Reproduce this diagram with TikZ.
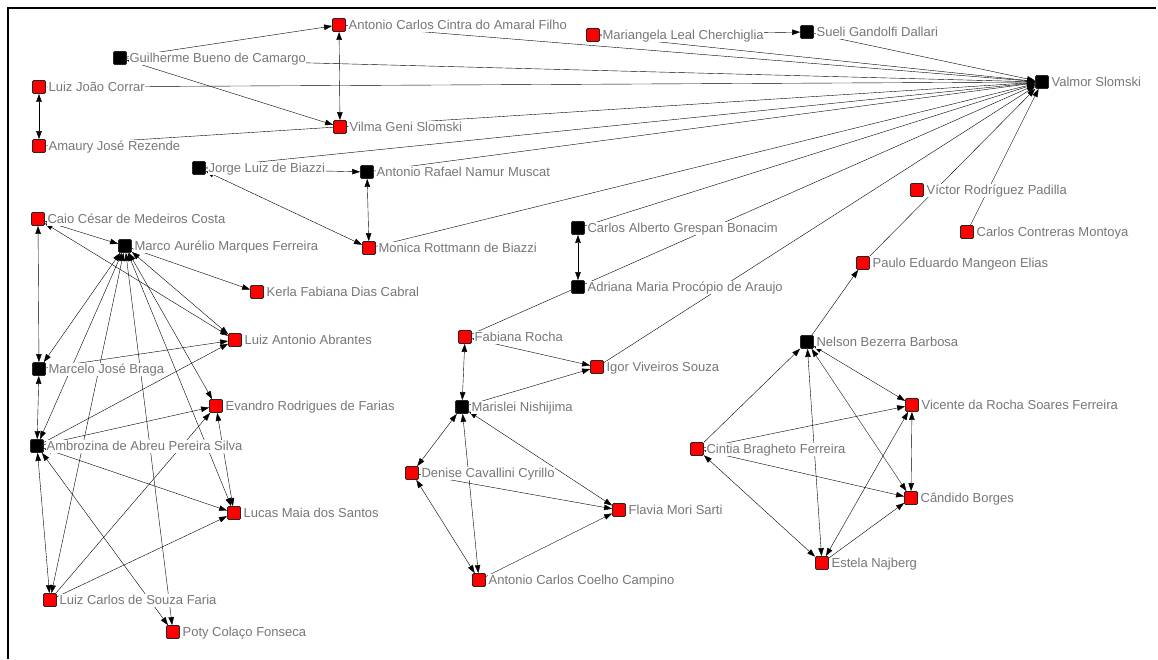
\documentclass[tikz,border=0pt]{standalone}
\usepackage{fontspec}
\setmainfont{Liberation Sans}
\usetikzlibrary{arrows.meta,backgrounds}

\definecolor{lblgray}{RGB}{118,118,124}
\definecolor{nodered}{RGB}{255,0,0}

\begin{document}
\begin{tikzpicture}[x=1pt,y=-1pt,
  >={Triangle[length=8pt,width=5.5pt]},
  sq/.style={draw=black!85,rectangle,rounded corners=1.2pt,minimum size=13pt,inner sep=0pt,line width=0.8pt},
  rd/.style={sq,fill=nodered},
  bk/.style={sq,fill=black},
  lbl/.style={fill=white,text=lblgray,font=\fontsize{13}{15}\selectfont,inner sep=0.5pt,text height=10pt,text depth=2pt,label distance=2pt},
  edge/.style={line width=1.1pt,black}]
\useasboundingbox (0,0) rectangle (1158,659);
\draw[line width=2pt] (8,659) -- (8,8) -- (1156,8);

\node[rd,label={[lbl]right:Antonio Carlos Cintra do Amaral Filho}] (n0) at (339,25) {};
\node[bk,label={[lbl]right:Guilherme Bueno de Camargo}] (n1) at (120,58) {};
\node[rd,label={[lbl]right:Luiz João Corrar}] (n2) at (39,87) {};
\node[rd,label={[lbl]right:Vilma Geni Slomski}] (n3) at (340,127) {};
\node[rd,label={[lbl]right:Amaury José Rezende}] (n4) at (39,146) {};
\node[bk,label={[lbl]right:Jorge Luiz de Biazzi}] (n5) at (199,168) {};
\node[bk,label={[lbl]right:Antonio Rafael Namur Muscat}] (n6) at (367,172) {};
\node[rd,label={[lbl]right:Mariangela Leal Cherchiglia}] (n7) at (593,35) {};
\node[bk,label={[lbl]right:Sueli Gandolfi Dallari}] (n8) at (807,32) {};
\node[bk,label={[lbl]right:Valmor Slomski}] (n9) at (1042,82) {};
\node[rd,label={[lbl]right:Víctor Rodríguez Padilla}] (n10) at (917,190) {};
\node[rd,label={[lbl]right:Monica Rottmann de Biazzi}] (n11) at (369,248) {};
\node[bk,label={[lbl]right:Carlos Alberto Grespan Bonacim}] (n12) at (578,228) {};
\node[bk,label={[lbl]right:Adriana Maria Procópio de Araujo}] (n13) at (578,287) {};
\node[rd,label={[lbl]right:Carlos Contreras Montoya}] (n14) at (967,232) {};
\node[rd,label={[lbl]right:Paulo Eduardo Mangeon Elias}] (n15) at (863,263) {};
\node[rd,label={[lbl]right:Fabiana Rocha}] (n16) at (465,337) {};
\node[rd,label={[lbl]right:Igor Viveiros Souza}] (n17) at (597,367) {};
\node[bk,label={[lbl]right:Marislei Nishijima}] (n18) at (462,407) {};
\node[bk,label={[lbl]right:Nelson Bezerra Barbosa}] (n19) at (807,342) {};
\node[rd,label={[lbl]right:Vicente da Rocha Soares Ferreira}] (n20) at (912,405) {};
\node[rd,label={[lbl]right:Cintia Bragheto Ferreira}] (n21) at (697,449) {};
\node[rd,label={[lbl]right:Cândido Borges}] (n22) at (911,498) {};
\node[rd,label={[lbl]right:Estela Najberg}] (n23) at (822,563) {};
\node[rd,label={[lbl]right:Denise Cavallini Cyrillo}] (n24) at (412,473) {};
\node[rd,label={[lbl]right:Flavia Mori Sarti}] (n25) at (619,510) {};
\node[rd,label={[lbl]right:Antonio Carlos Coelho Campino}] (n26) at (479,580) {};
\node[rd,label={[lbl]right:Caio César de Medeiros Costa}] (n27) at (38,219) {};
\node[bk,label={[lbl]right:Marco Aurélio Marques Ferreira}] (n28) at (125,246) {};
\node[rd,label={[lbl]right:Kerla Fabiana Dias Cabral}] (n29) at (257,292) {};
\node[rd,label={[lbl]right:Luiz Antonio Abrantes}] (n30) at (235,340) {};
\node[bk,label={[lbl]right:Marcelo José Braga}] (n31) at (39,369) {};
\node[rd,label={[lbl]right:Evandro Rodrigues de Farias}] (n32) at (216,406) {};
\node[bk,label={[lbl]right:Ambrozina de Abreu Pereira Silva}] (n33) at (37,446) {};
\node[rd,label={[lbl]right:Lucas Maia dos Santos}] (n34) at (234,513) {};
\node[rd,label={[lbl]right:Luiz Carlos de Souza Faria}] (n35) at (50,600) {};
\node[rd,label={[lbl]right:Poty Colaço Fonseca}] (n36) at (173,632) {};

\begin{scope}[on background layer,edge]
\draw[->] (n0) -- (n9);
\draw[->] (n7) -- (n9);
\draw[->] (n8) -- (n9);
\draw[->] (n1) -- (n9);
\draw[->] (n2) -- (n9);
\draw[->] (n4) -- (n9);
\draw[->] (n5) -- (n9);
\draw[->] (n6) -- (n9);
\draw[->] (n11) -- (n9);
\draw[->] (n12) -- (n9);
\draw[->] (n16) -- (n9);
\draw[->] (n17) -- (n9);
\draw[->] (n15) -- (n9);
\draw[->] (n14) -- (n9);
\draw[->] (n1) -- (n0);
\draw[<->] (n1) -- (n3);
\draw[<->] (n0) -- (n3);
\draw[<->] (n2) -- (n4);
\draw[->] (n5) -- (n6);
\draw[<->] (n6) -- (n11);
\draw[<->] (n5) -- (n11);
\draw[->] (n7) -- (n8);
\draw[<->] (n12) -- (n13);
\draw[<->] (n16) -- (n17);
\draw[<->] (n16) -- (n18);
\draw[->] (n18) -- (n17);
\draw[<->] (n18) -- (n24);
\draw[<->] (n18) -- (n26);
\draw[<->] (n18) -- (n25);
\draw[->] (n24) -- (n25);
\draw[<->] (n24) -- (n26);
\draw[->] (n26) -- (n25);
\draw[->] (n21) -- (n19);
\draw[->] (n19) -- (n15);
\draw[<->] (n19) -- (n20);
\draw[<->] (n19) -- (n22);
\draw[<->] (n19) -- (n23);
\draw[->] (n21) -- (n20);
\draw[<->] (n21) -- (n22);
\draw[<->] (n21) -- (n23);
\draw[<->] (n23) -- (n20);
\draw[->] (n23) -- (n22);
\draw[<->] (n20) -- (n22);
\draw[<->] (n27) -- (n28);
\draw[<->] (n27) -- (n30);
\draw[<->] (n27) -- (n31);
\draw[<->] (n31) -- (n33);
\draw[<->] (n33) -- (n35);
\draw[->] (n28) -- (n29);
\draw[<->] (n28) -- (n30);
\draw[<->] (n28) -- (n31);
\draw[<->] (n28) -- (n32);
\draw[<->] (n28) -- (n34);
\draw[<->] (n28) -- (n33);
\draw[<->] (n28) -- (n35);
\draw[<->] (n28) -- (n36);
\draw[->] (n31) -- (n30);
\draw[->] (n33) -- (n30);
\draw[->] (n33) -- (n32);
\draw[<->] (n33) -- (n34);
\draw[->] (n35) -- (n34);
\draw[->] (n35) -- (n32);
\draw[<->] (n32) -- (n34);
\draw[<->] (n33) -- (n36);
\end{scope}
\end{tikzpicture}
\end{document}
